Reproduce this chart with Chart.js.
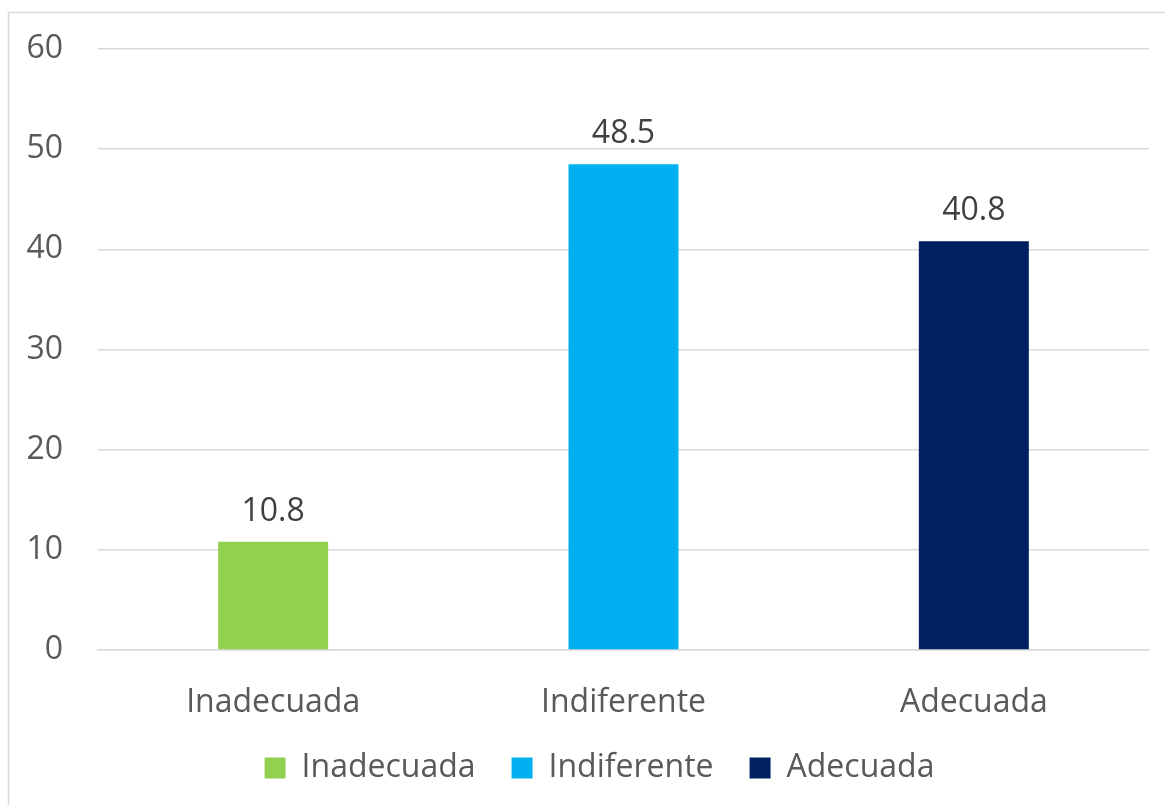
<!DOCTYPE html>
<html>
<head>
<meta charset="utf-8">
<script src="https://cdn.jsdelivr.net/npm/chart.js@4"></script>
<style>
  html, body { margin: 0; padding: 0; background: #ffffff; }
  #wrap { width: 1165px; height: 805px; position: relative; }
</style>
</head>
<body>
<div id="wrap"><canvas id="c" width="1165" height="805"></canvas></div>
<script>
const categories = ["Inadecuada", "Indiferente", "Adecuada"];
const values = [10.8, 48.5, 40.8];
const barColors = ["#92D050", "#00B0F0", "#002060"];
const yTicks = [0, 10, 20, 30, 40, 50, 60];

const FONT = "'Open Sans', sans-serif";

const borderPlugin = {
  id: 'outerBorder',
  beforeDraw(chart) {
    const ctx = chart.ctx;
    ctx.save();
    ctx.fillStyle = '#ffffff';
    ctx.fillRect(0, 0, chart.width, chart.height);
    ctx.strokeStyle = '#D9D9D9';
    ctx.lineWidth = 1.5;
    ctx.strokeRect(8.5, 12.5, chart.width + 10, chart.height + 10);
    ctx.restore();
  }
};

const legendShift = {
  id: 'legendShift',
  afterLayout(chart) {
    if (chart.legend) {
      chart.legend.left += 21;
      chart.legend.right += 21;
    }
  }
};

const labelPlugin = {
  id: 'valueLabels',
  afterDatasetsDraw(chart) {
    const ctx = chart.ctx;
    const meta = chart.getDatasetMeta(0);
    ctx.save();
    ctx.font = "32px " + FONT;
    ctx.fillStyle = '#404040';
    ctx.textAlign = 'center';
    ctx.textBaseline = 'alphabetic';
    meta.data.forEach((bar, i) => {
      ctx.fillText(values[i].toFixed(1), bar.x, bar.y - 21);
    });
    ctx.restore();
  }
};

new Chart(document.getElementById('c'), {
  type: 'bar',
  data: {
    labels: categories,
    datasets: [{
      data: values,
      backgroundColor: barColors,
      borderWidth: 0,
      barPercentage: 0.314,
      categoryPercentage: 1.0
    }]
  },
  options: {
    responsive: false,
    animation: false,
    layout: { padding: { left: 8, right: 16, top: 49, bottom: 11 } },
    plugins: {
      tooltip: { enabled: false },
      legend: {
        display: true,
        position: 'bottom',
        labels: {
          font: { family: FONT, size: 32 },
          color: '#595959',
          boxWidth: 21,
          boxHeight: 21,
          padding: 36,
          generateLabels() {
            return categories.map((c, i) => ({
              text: c,
              fillStyle: barColors[i],
              strokeStyle: barColors[i],
              lineWidth: 0,
              fontColor: '#595959',
              hidden: false,
              index: i
            }));
          }
        },
        onClick() {}
      }
    },
    scales: {
      x: {
        afterFit(axis) { axis.height = 66; },
        grid: { display: false, drawTicks: false },
        border: { display: true, color: '#D9D9D9', width: 1.5 },
        ticks: {
          font: { family: FONT, size: 32 },
          color: '#595959',
          padding: 34
        }
      },
      y: {
        min: 0,
        max: 60,
        afterFit(axis) { axis.width = 90; },
        afterBuildTicks(axis) { axis.ticks = yTicks.map(v => ({ value: v })); },
        grid: { color: '#D9D9D9', lineWidth: 1.5, drawTicks: true, tickLength: 30, tickColor: 'rgba(0,0,0,0)' },
        border: { display: false },
        ticks: {
          font: { family: FONT, size: 32 },
          color: '#595959',
          padding: 5
        }
      }
    }
  },
  plugins: [borderPlugin, legendShift, labelPlugin]
});
</script>
</body>
</html>
